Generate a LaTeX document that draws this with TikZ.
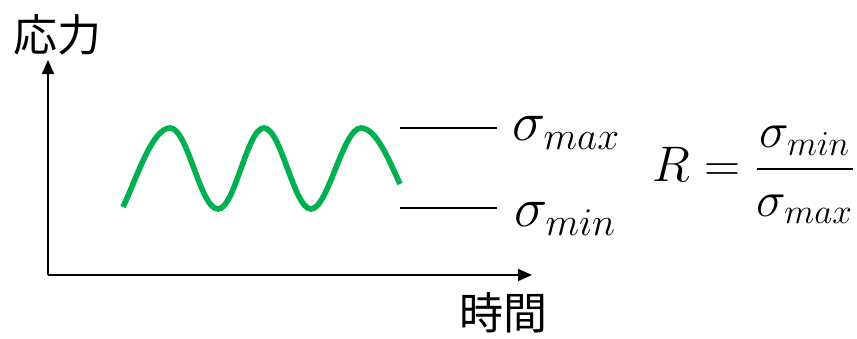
\RequirePackage{fix-cm}
\documentclass[tikz,border=0pt]{standalone}
\usepackage{amsmath}
\usepackage{fontspec}
\newfontfamily\jpfont{Noto Sans CJK JP}
\usepackage{tikz}
\usetikzlibrary{positioning,arrows.meta}
\definecolor{wavegreen}{HTML}{00B050}

\begin{document}
\begin{tikzpicture}[x=0.5pt, y=-0.5pt, >={Triangle[length=7pt, width=6pt]},
  axis/.style={line width=1pt},
  lvl/.style={line width=1pt},
  wave/.style={wavegreen, line width=2.8pt},
  jp/.style={font=\jpfont\fontsize{22}{24}\selectfont, inner sep=0pt},
  sym/.style={font=\fontsize{28}{30}\selectfont, inner sep=0pt}]
  \useasboundingbox (0,0) rectangle (857,338);
  \coordinate (o) at (48,275);
  \coordinate (ytop) at (48,60);
  \coordinate (xend) at (532,275);
  \draw[axis, ->] (o) -- (ytop);
  \draw[axis, ->] (o) -- (xend);
  \node[jp] (ylbl) at (57,35) {応力};
  \node[jp] (xlbl) at (503,313) {時間};
  \coordinate (w0) at (123,207);
  \coordinate (p1) at (170,128);
  \coordinate (t1) at (218,209);
  \coordinate (p2) at (264,128);
  \coordinate (t2) at (311,209);
  \coordinate (p3) at (361,128);
  \coordinate (w1) at (400,184);
  \draw[wave] (w0) .. controls (136,180) and (152,128) .. (p1)
    .. controls (188,128) and (200,209) .. (t1)
    .. controls (235,209) and (247,128) .. (p2)
    .. controls (281,128) and (294,209) .. (t2)
    .. controls (328,209) and (343,128) .. (p3)
    .. controls (376,128) and (389,160) .. (w1);
  \coordinate (hi1) at (400,128);
  \coordinate (hi2) at (497,128);
  \coordinate (lo1) at (400,208);
  \coordinate (lo2) at (497,208);
  \draw[lvl] (hi1) -- (hi2);
  \draw[lvl] (lo1) -- (lo2);
  \node[sym, anchor=west] (smax) at (512,133) {$\sigma_{max}$};
  \node[sym, anchor=west] (smin) at (514,219) {$\sigma_{min}$};
  \node[sym, font=\fontsize{25}{28}\selectfont] (ratio) at (754,175) {$R=\dfrac{\sigma_{min}}{\sigma_{max}}$};
\end{tikzpicture}
\end{document}
